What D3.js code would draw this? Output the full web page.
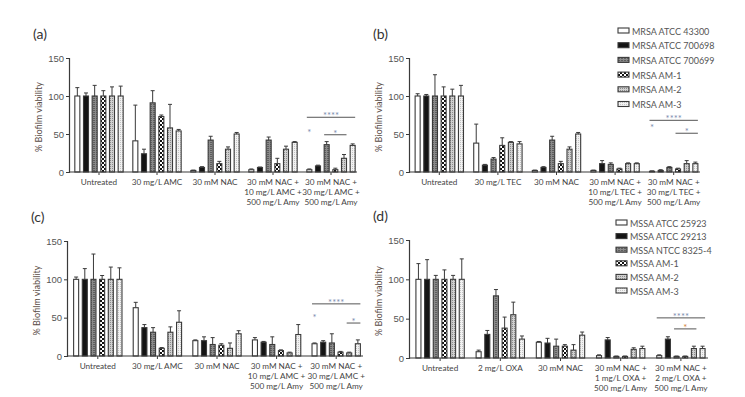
<!DOCTYPE html>
<html>
<head>
<meta charset="utf-8">
<script src="https://cdn.jsdelivr.net/npm/d3@7/dist/d3.min.js"></script>
<style>
  body { margin: 0; background: #fff; }
  svg { font-family: Lato, "Open Sans", sans-serif; }
  .tick text { fill: #555; }
</style>
</head>
<body>
<svg id="chart" width="745" height="397"></svg>
<script>
// series names
const seriesMRSA = ["MRSA ATCC 43300", "MRSA ATCC 700698", "MRSA ATCC 700699", "MRSA AM-1", "MRSA AM-2", "MRSA AM-3"];
const seriesMSSA = ["MSSA ATCC 25923", "MSSA ATCC 29213", "MSSA NTCC 8325-4", "MSSA AM-1", "MSSA AM-2", "MSSA AM-3"];

// categories (line breaks with \n)
const groupsA = ["Untreated", "30 mg/L AMC", "30 mM NAC", "30 mM NAC +\n10 mg/L AMC +\n500 mg/L Amy", "30 mM NAC +\n30 mg/L AMC +\n500 mg/L Amy"];
const groupsB = ["Untreated", "30 mg/L TEC", "30 mM NAC", "30 mM NAC +\n10 mg/L TEC +\n500 mg/L Amy", "30 mM NAC +\n30 mg/L TEC +\n500 mg/L Amy"];
const groupsC = groupsA;
const groupsD = ["Untreated", "2 mg/L OXA", "30 mM NAC", "30 mM NAC +\n1 mg/L OXA +\n500 mg/L Amy", "30 mM NAC +\n2 mg/L OXA +\n500 mg/L Amy"];

const yTicks = [0, 50, 100, 150];

// means [group][series]
const meanA = [[100, 100, 100, 100, 100, 100], [41, 24, 91, 73, 58, 54], [2, 6, 42, 11, 30, 50], [3, 6, 42, 11, 30, 39], [3, 8, 36, 3, 18, 35]];
const errA  = [[11, 4, 14, 7, 12, 13], [47, 6, 16, 2, 31, 2], [0.5, 1, 5, 3, 3, 2], [1, 0.5, 4, 7, 4, 1], [1, 1, 4, 2, 5, 2]];
const meanB = [[100, 100, 100, 100, 100, 100], [38, 9, 17, 35, 39, 37], [2, 6, 42, 11, 30, 50], [2, 11, 10, 4, 11, 11], [1, 2, 6, 4, 11, 11]];
const errB  = [[3, 2, 28, 12, 9, 14], [25, 1, 2, 10, 1, 3], [0.5, 1, 5, 3, 3, 2], [0.5, 4, 2, 1, 1, 1], [0.5, 1, 1, 1, 4, 2]];
const meanC = [[100, 100, 100, 100, 100, 100], [63, 37, 31, 10, 31, 44], [20, 20, 15, 14, 10, 29], [21, 18, 15, 7, 4, 28], [16, 18, 17, 5, 4, 16]];
const errC  = [[3, 14, 33, 5, 16, 15], [7, 4, 6, 1, 7, 15], [1, 5, 9, 2, 7, 4], [3, 1, 10, 1, 1, 13], [1, 2, 12, 1, 1, 5]];
const meanD = [[100, 100, 100, 100, 100, 100], [8, 30, 79, 38, 55, 24], [20, 19, 15, 15, 10, 29], [3, 23, 2, 2, 11, 12], [3, 24, 2, 2, 12, 12]];
const errD  = [[20, 25, 5, 12, 5, 26], [2, 5, 8, 14, 16, 4], [1, 6, 9, 2, 7, 4], [1, 3, 0.5, 0.5, 2, 3], [1, 3, 0.5, 0.5, 3, 3]];

// significance marks on the last group: [fromSeries, toSeries, value, label]
const sigA = [[0, 5, 72, "****"], [2, 4, 49, "*"], [0, 0, 50, "*"]];
const sigB = [[0, 5, 68, "****"], [3, 5, 51, "*"], [0, 0, 56, "*"]];
const sigC = [[0, 5, 68, "****"], [4, 5, 43, "*"], [0, 0, 48, "*"]];
const sigD = [[0, 5, 51, "****"], [2, 4, 37, "*"]];

const svg = d3.select("#chart");
const defs = svg.append("defs");

// bar fills
function pattern(id, w, h, bg, draw) {
  const p = defs.append("pattern").attr("id", id).attr("patternUnits", "userSpaceOnUse")
    .attr("width", w).attr("height", h);
  p.append("rect").attr("width", w).attr("height", h).attr("fill", bg);
  draw(p);
}
pattern("p3", 3, 2, "#8a8a8a", p => p.append("rect").attr("width", 2).attr("height", 1).attr("fill", "#5e5e5e"));
pattern("p4", 4, 4, "#fff", p => {
  p.append("rect").attr("width", 2).attr("height", 2).attr("fill", "#111");
  p.append("rect").attr("x", 2).attr("y", 2).attr("width", 2).attr("height", 2).attr("fill", "#111");
});
pattern("p5", 2, 2, "#d0d0d0", p => p.append("rect").attr("width", 1).attr("height", 1).attr("fill", "#8c8c8c"));
pattern("p6", 2, 2, "#f2f2f2", p => p.append("rect").attr("width", 1).attr("height", 1).attr("fill", "#c4c4c4"));
const fills = ["#fff", "#141414", "url(#p3)", "url(#p4)", "url(#p5)", "url(#p6)"];

const ink = "#3a3a3a";

function panel(cfg) {
  const { label, groups, mean, err, sig, x0, x1, yBase, yTop, legend, starColors } = cfg;
  const g = svg.append("g");

  const x = d3.scaleBand().domain(d3.range(groups.length)).range([x0 + 1, x1]);
  const inner = d3.scaleBand().domain(d3.range(6)).range([-26, 26]).paddingInner(0.42).paddingOuter(0.21);
  const y = d3.scaleLinear().domain([0, 150]).range([yBase, yTop]);
  const bx = (gi, si) => x(gi) + x.bandwidth() / 2 + inner(si);
  const bw = inner.bandwidth();

  // panel label
  g.append("text").attr("x", x0 - 36).attr("y", yTop - 19).attr("font-size", 14)
    .attr("fill", "#333").text(label);

  // y axis
  const ya = g.append("g").attr("transform", `translate(${x0},0)`)
    .call(d3.axisLeft(y).tickValues(yTicks).tickSize(3).tickPadding(2));
  ya.select(".domain").attr("stroke", ink).attr("stroke-width", 1.2);
  ya.selectAll(".tick line").attr("stroke", ink);
  ya.selectAll(".tick text").attr("font-size", 9.5);

  g.append("text")
    .attr("transform", `translate(${x0 - 27},${(yBase + yTop) / 2 + 2}) rotate(-90)`)
    .attr("text-anchor", "middle").attr("font-size", 9).attr("fill", "#5a4c46")
    .text("% Biofilm viability");

  // bars
  groups.forEach((_, gi) => {
    mean[gi].forEach((v, si) => {
      const bx0 = bx(gi, si);
      const top = y(v + err[gi][si]);
      g.append("line").attr("x1", bx0 + bw / 2).attr("x2", bx0 + bw / 2)
        .attr("y1", y(v)).attr("y2", top).attr("stroke", ink).attr("stroke-width", 1);
      g.append("line").attr("x1", bx0 + bw / 2 - 2).attr("x2", bx0 + bw / 2 + 2)
        .attr("y1", top).attr("y2", top).attr("stroke", ink).attr("stroke-width", 1);
      g.append("rect").attr("x", bx0).attr("y", y(v)).attr("width", bw)
        .attr("height", yBase - y(v)).attr("fill", fills[si])
        .attr("stroke", ink).attr("stroke-width", 1.1);
    });
  });

  // x axis
  const xa = g.append("g").attr("transform", `translate(0,${yBase})`)
    .call(d3.axisBottom(x).tickSize(3).tickFormat(""));
  xa.select(".domain").attr("stroke", ink).attr("stroke-width", 1.2).attr("d", `M${x0},0H${x1 - 3}`);
  xa.selectAll(".tick line").attr("stroke", ink);

  groups.forEach((name, gi) => {
    const t = g.append("text").attr("text-anchor", "middle").attr("font-size", 8.2).attr("fill", "#444")
      .attr("x", x(gi) + x.bandwidth() / 2).attr("y", yBase + 13);
    name.split("\n").forEach((line, li) => {
      t.append("tspan").attr("x", x(gi) + x.bandwidth() / 2).attr("dy", li ? 10 : 0).text(line);
    });
  });

  // significance
  const last = groups.length - 1;
  sig.forEach(([s0, s1, v, txt], k) => {
    const yy = y(v);
    const xa0 = bx(last, s0), xb0 = bx(last, s1) + bw;
    if (s0 !== s1) {
      g.append("line").attr("x1", xa0).attr("x2", xb0).attr("y1", yy).attr("y2", yy)
        .attr("stroke", "#555").attr("stroke-width", 1);
    }
    g.append("text").attr("text-anchor", "middle").attr("font-size", 9.5)
      .attr("x", (xa0 + xb0) / 2).attr("y", yy + 2).attr("fill", starColors[k] || "#7d8db0").text(txt);
  });

  // legend
  if (legend) {
    const lg = g.append("g");
    legend.names.forEach((n, i) => {
      const ly = legend.y + i * legend.step;
      lg.append("rect").attr("x", legend.x).attr("y", ly - 3).attr("width", 11).attr("height", 5)
        .attr("fill", fills[i]).attr("stroke", ink).attr("stroke-width", 1.1);
      lg.append("text").attr("x", legend.x + 14).attr("y", ly + 3.5).attr("font-size", 9)
        .attr("fill", "#555").text(n);
    });
  }
}

panel({ label: "(a)", groups: groupsA, mean: meanA, err: errA, sig: sigA, x0: 69, x1: 360, yBase: 172, yTop: 58, starColors: [] });
panel({ label: "(b)", groups: groupsB, mean: meanB, err: errB, sig: sigB, x0: 409, x1: 703, yBase: 172, yTop: 58, starColors: [],
  legend: { names: seriesMRSA, x: 618, y: 31, step: 14.7 } });
panel({ label: "(c)", groups: groupsC, mean: meanC, err: errC, sig: sigC, x0: 67, x1: 366, yBase: 356, yTop: 241, starColors: [] });
panel({ label: "(d)", groups: groupsD, mean: meanD, err: errD, sig: sigD, x0: 409, x1: 711, yBase: 358, yTop: 240, starColors: ["#7d8db0", "#d4843a"],
  legend: { names: seriesMSSA, x: 616, y: 223, step: 13.6 } });
</script>
</body>
</html>
